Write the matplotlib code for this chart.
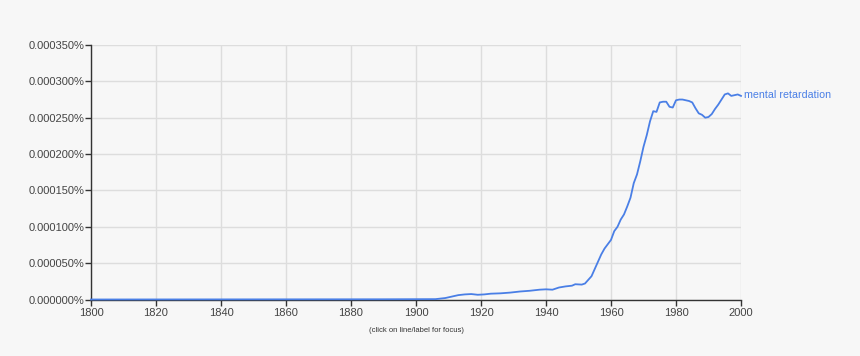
import matplotlib
matplotlib.use('Agg')
import matplotlib.pyplot as plt
from matplotlib.ticker import FuncFormatter

# ngram frequency, in millionths of a percent
years = [1800, 1890, 1906, 1909, 1911, 1913, 1915, 1917, 1919, 1921, 1923, 1926,
         1929, 1932, 1935, 1938, 1940, 1942, 1944, 1946, 1948, 1949, 1951, 1952,
         1954, 1955, 1956, 1957, 1958, 1960, 1961, 1962, 1963, 1964, 1965, 1966,
         1967, 1968, 1969, 1970, 1971, 1972, 1973, 1974, 1975, 1976, 1977, 1978,
         1979, 1980, 1981, 1982, 1983, 1984, 1985, 1986, 1987, 1988, 1989, 1990,
         1991, 1992, 1993, 1994, 1995, 1996, 1997, 1998, 1999, 2000]
freq = [0, 0.3, 0.5, 2, 4, 6, 7, 7.5, 6.5, 7, 8, 8.5,
        9.5, 11, 12, 13.5, 14, 13.5, 16.5, 18, 19, 21, 20.5, 22,
        32, 42, 52, 62, 70, 82, 94, 100, 110, 117, 128, 140,
        160, 172, 190, 210, 226, 245, 259, 258, 271, 272, 272, 265,
        264, 274, 275, 275, 274, 273, 271, 263, 256, 254, 250, 251,
        255, 262, 268, 275, 282, 283.5, 280, 281, 282, 280]
label = 'mental retardation'
xticks = [1800, 1820, 1840, 1860, 1880, 1900, 1920, 1940, 1960, 1980, 2000]
yticks = [0, 50, 100, 150, 200, 250, 300, 350]

plt.rcParams['font.family'] = ['Liberation Sans', 'DejaVu Sans']
bg = '#f7f7f7'
blue = '#4a7fe6'

fig = plt.figure(figsize=(8.6, 3.56), dpi=100, facecolor=bg)
ax = fig.add_axes([91/860, 1-299.5/356, 650/860, 254.5/356])
ax.set_facecolor(bg)

ax.plot(years, freq, color=blue, lw=1.3, zorder=3, clip_on=False)
ax.text(years[-1] + 1, freq[-1] + 1, label, color=blue, fontsize=7.7,
        va='center', ha='left')

ax.set_xlim(1800, 2000)
ax.set_ylim(0, 350)
ax.set_xticks(xticks)
ax.set_yticks(yticks)
ax.yaxis.set_major_formatter(FuncFormatter(lambda v, p: '%.6f%%' % (v / 1e6)))
ax.grid(True, color='#dddddd', lw=1)
ax.set_axisbelow(True)
for s in ['top', 'right']:
    ax.spines[s].set_visible(False)
for s in ['left', 'bottom']:
    ax.spines[s].set_color('#333333')
    ax.spines[s].set_linewidth(1)
ax.tick_params(length=4, width=1, color='#333333', labelsize=8,
               labelcolor='#444444', pad=1)
ax.tick_params(axis='x', pad=2)

fig.text(416/860, 1-330/356, '(click on line/label for focus)', fontsize=5.5,
         color='#333333', ha='center', va='center')

fig.savefig('out.png', dpi=100, facecolor=bg)
